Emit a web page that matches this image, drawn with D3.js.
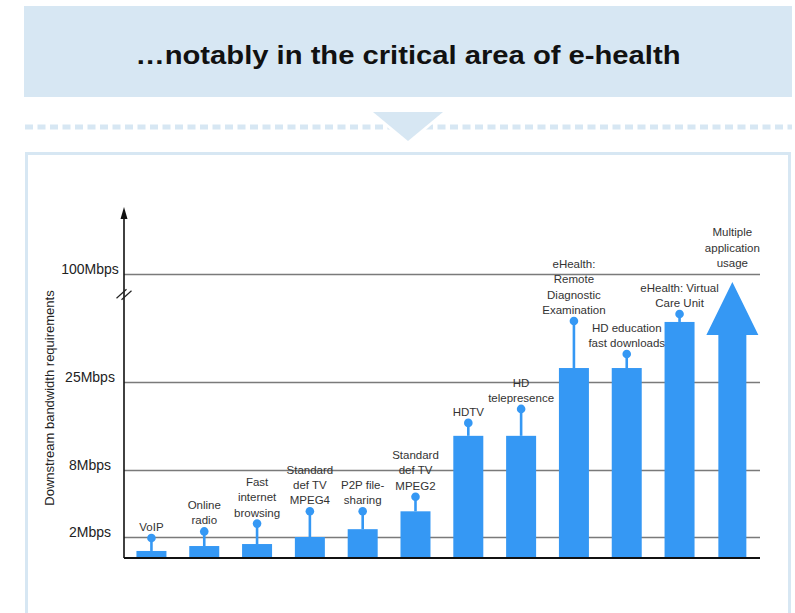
<!DOCTYPE html>
<html>
<head>
<meta charset="utf-8">
<script src="https://cdn.jsdelivr.net/npm/d3@7"></script>
<style>
  body { margin: 0; background: #fff; }
  svg text { font-family: "Liberation Sans", Arial, sans-serif; }
</style>
</head>
<body>
<div id="chart"></div>
<script>
var svg_width = 795;
var svg_height = 613;
var BLUE = "#3598f4";
var PALE = "#d7e7f3";

// applications along the x axis
var apps = ["VoIP", "Online radio", "Fast internet browsing", "Standard def TV MPEG4",
    "P2P file-sharing", "Standard def TV MPEG2", "HDTV", "HD telepresence",
    "eHealth: Remote Diagnostic Examination", "HD education fast downloads",
    "eHealth: Virtual Care Unit", "Multiple application usage"];
var appLines = [["VoIP"], ["Online", "radio"], ["Fast", "internet", "browsing"], ["Standard", "def TV", "MPEG4"],
    ["P2P file-", "sharing"], ["Standard", "def TV", "MPEG2"], ["HDTV"], ["HD", "telepresence"],
    ["eHealth:", "Remote", "Diagnostic", "Examination"], ["HD education", "fast downloads"],
    ["eHealth: Virtual", "Care Unit"], ["Multiple", "application", "usage"]];
// bar height in Mbps (last one = base of the arrow head)
var barValues = [0.67, 1.14, 1.33, 2.0, 2.7, 4.3, 14.6, 14.6, 34.7, 34.7, 66.7, 57.6];
// where the pin / label sits in Mbps (last one = tip of the arrow)
var pinValues = [1.9, 2.5, 3.2, 4.3, 4.3, 5.6, 17.1, 19.8, 67.4, 44.4, 72.2, 94.4];
// y axis levels (the axis is broken, not linear)
var levels = [0, 2, 8, 25, 100];
var tickValues = [2, 8, 25, 100];
var tickLabels = ["2Mbps", "8Mbps", "25Mbps", "100Mbps"];

var x = d3.scaleBand()
    .domain(apps)
    .range([120.6, 763.2])
    .paddingInner(0.432)
    .paddingOuter(0.3);

// piecewise scale because of the axis break
var y = d3.scaleLinear()
    .domain(levels)
    .range([558, 537, 470, 382, 274]);

var axisX = 124, rightX = 760;

const svg = d3.select("#chart")
    .append("svg")
    .attr("width", svg_width)
    .attr("height", svg_height);

// ---- header
svg.append("rect")
    .attr("x", 24).attr("y", 6)
    .attr("width", 768).attr("height", 91)
    .attr("fill", PALE);
svg.append("text")
    .attr("x", 408).attr("y", 64)
    .attr("text-anchor", "middle")
    .attr("font-size", "25px")
    .attr("font-weight", "bold")
    .attr("fill", "#111")
    .attr("textLength", 545)
    .attr("lengthAdjust", "spacingAndGlyphs")
    .text("\u2026notably in the critical area of e-health");

// dotted separator + down triangle
svg.append("line")
    .attr("x1", 25).attr("x2", 792)
    .attr("y1", 127).attr("y2", 127)
    .attr("stroke", PALE)
    .attr("stroke-width", 5)
    .attr("stroke-dasharray", "8,4.5");
svg.append("polygon")
    .attr("points", "367,109 449,109 408,146")
    .attr("fill", "#fff");
svg.append("polygon")
    .attr("points", "373,112 443,112 408,141")
    .attr("fill", PALE);

// chart frame
svg.append("rect")
    .attr("x", 26.5).attr("y", 153.5)
    .attr("width", 763).attr("height", 470)
    .attr("fill", "#fff")
    .attr("stroke", PALE)
    .attr("stroke-width", 3);

// ---- grid lines via axis
var yAxis = g => g
    .attr("transform", `translate(${axisX},0)`)
    .call(d3.axisLeft(y).tickValues(tickValues).tickSize(-(rightX - axisX)).tickFormat((d, i) => tickLabels[i]))
    .call(g => g.select(".domain").remove())
    .call(g => g.selectAll(".tick line").attr("stroke", "#7a7a7a").attr("stroke-width", 1.6))
    .call(g => g.selectAll(".tick text")
        .attr("x", -34)
        .attr("dy", "-0.05em")
        .attr("text-anchor", "middle")
        .attr("font-size", "14px")
        .attr("fill", "#222")
        .attr("font-family", null));
svg.append("g").call(yAxis);

// axis title
svg.append("text")
    .attr("transform", "translate(54,398) rotate(-90)")
    .attr("text-anchor", "middle")
    .attr("font-size", "13px")
    .attr("fill", "#222")
    .text("Downstream bandwidth requirements");

// ---- bars (all but the last, which is an arrow)
var barData = apps.slice(0, -1);
svg.append("g")
    .selectAll("rect")
    .data(barData)
    .join("rect")
    .attr("x", d => x(d))
    .attr("y", (d, i) => y(barValues[i]))
    .attr("width", x.bandwidth())
    .attr("height", (d, i) => y(0) - y(barValues[i]))
    .attr("fill", BLUE);

// pins
var pins = svg.append("g");
pins.selectAll("line")
    .data(barData)
    .join("line")
    .attr("x1", d => x(d) + x.bandwidth() / 2)
    .attr("x2", d => x(d) + x.bandwidth() / 2)
    .attr("y1", (d, i) => y(barValues[i]))
    .attr("y2", (d, i) => y(pinValues[i]))
    .attr("stroke", BLUE)
    .attr("stroke-width", 2.6);
pins.selectAll("circle")
    .data(barData)
    .join("circle")
    .attr("cx", d => x(d) + x.bandwidth() / 2)
    .attr("cy", (d, i) => y(pinValues[i]))
    .attr("r", 4.3)
    .attr("fill", BLUE);

// big arrow for the last category
var last = apps.length - 1;
var ax = x(apps[last]) + x.bandwidth() / 2;
var shaftW = 28, headW = 26;
svg.append("path")
    .attr("d", [
        "M", ax - shaftW / 2, y(0),
        "L", ax - shaftW / 2, y(barValues[last]),
        "L", ax - headW, y(barValues[last]),
        "L", ax, y(pinValues[last]),
        "L", ax + headW, y(barValues[last]),
        "L", ax + shaftW / 2, y(barValues[last]),
        "L", ax + shaftW / 2, y(0), "Z"].join(" "))
    .attr("fill", BLUE);

// labels above pins
var LINE_H = 15.4;
svg.append("g")
    .selectAll("text")
    .data(apps)
    .join("text")
    .attr("text-anchor", "middle")
    .attr("font-size", "11.5px")
    .attr("fill", "#333")
    .each(function (d, i) {
        var lines = appLines[i];
        var cx = x(d) + x.bandwidth() / 2;
        var base = y(pinValues[i]) - (i == last ? 15 : 7);
        d3.select(this).selectAll("tspan")
            .data(lines)
            .join("tspan")
            .attr("x", cx)
            .attr("y", (t, j) => base - (lines.length - 1 - j) * LINE_H)
            .text(t => t);
    });

// y axis line with arrow head + break marks
svg.append("line")
    .attr("x1", axisX).attr("x2", axisX)
    .attr("y1", y(0)).attr("y2", 216)
    .attr("stroke", "#111").attr("stroke-width", 1.6);
svg.append("polygon")
    .attr("points", `${axisX - 3.5},219 ${axisX + 3.5},219 ${axisX},207`)
    .attr("fill", "#111");
svg.append("g")
    .selectAll("line")
    .data([-2.5, 2.5])
    .join("line")
    .attr("x1", d => axisX - 5 + d).attr("x2", d => axisX + 5 + d)
    .attr("y1", d => 299 + d * 0.3).attr("y2", d => 290 + d * 0.3)
    .attr("stroke", "#222").attr("stroke-width", 1.2);

// baseline
svg.append("line")
    .attr("x1", axisX).attr("x2", rightX)
    .attr("y1", y(0)).attr("y2", y(0))
    .attr("stroke", "#111").attr("stroke-width", 2);
</script>
</body>
</html>
